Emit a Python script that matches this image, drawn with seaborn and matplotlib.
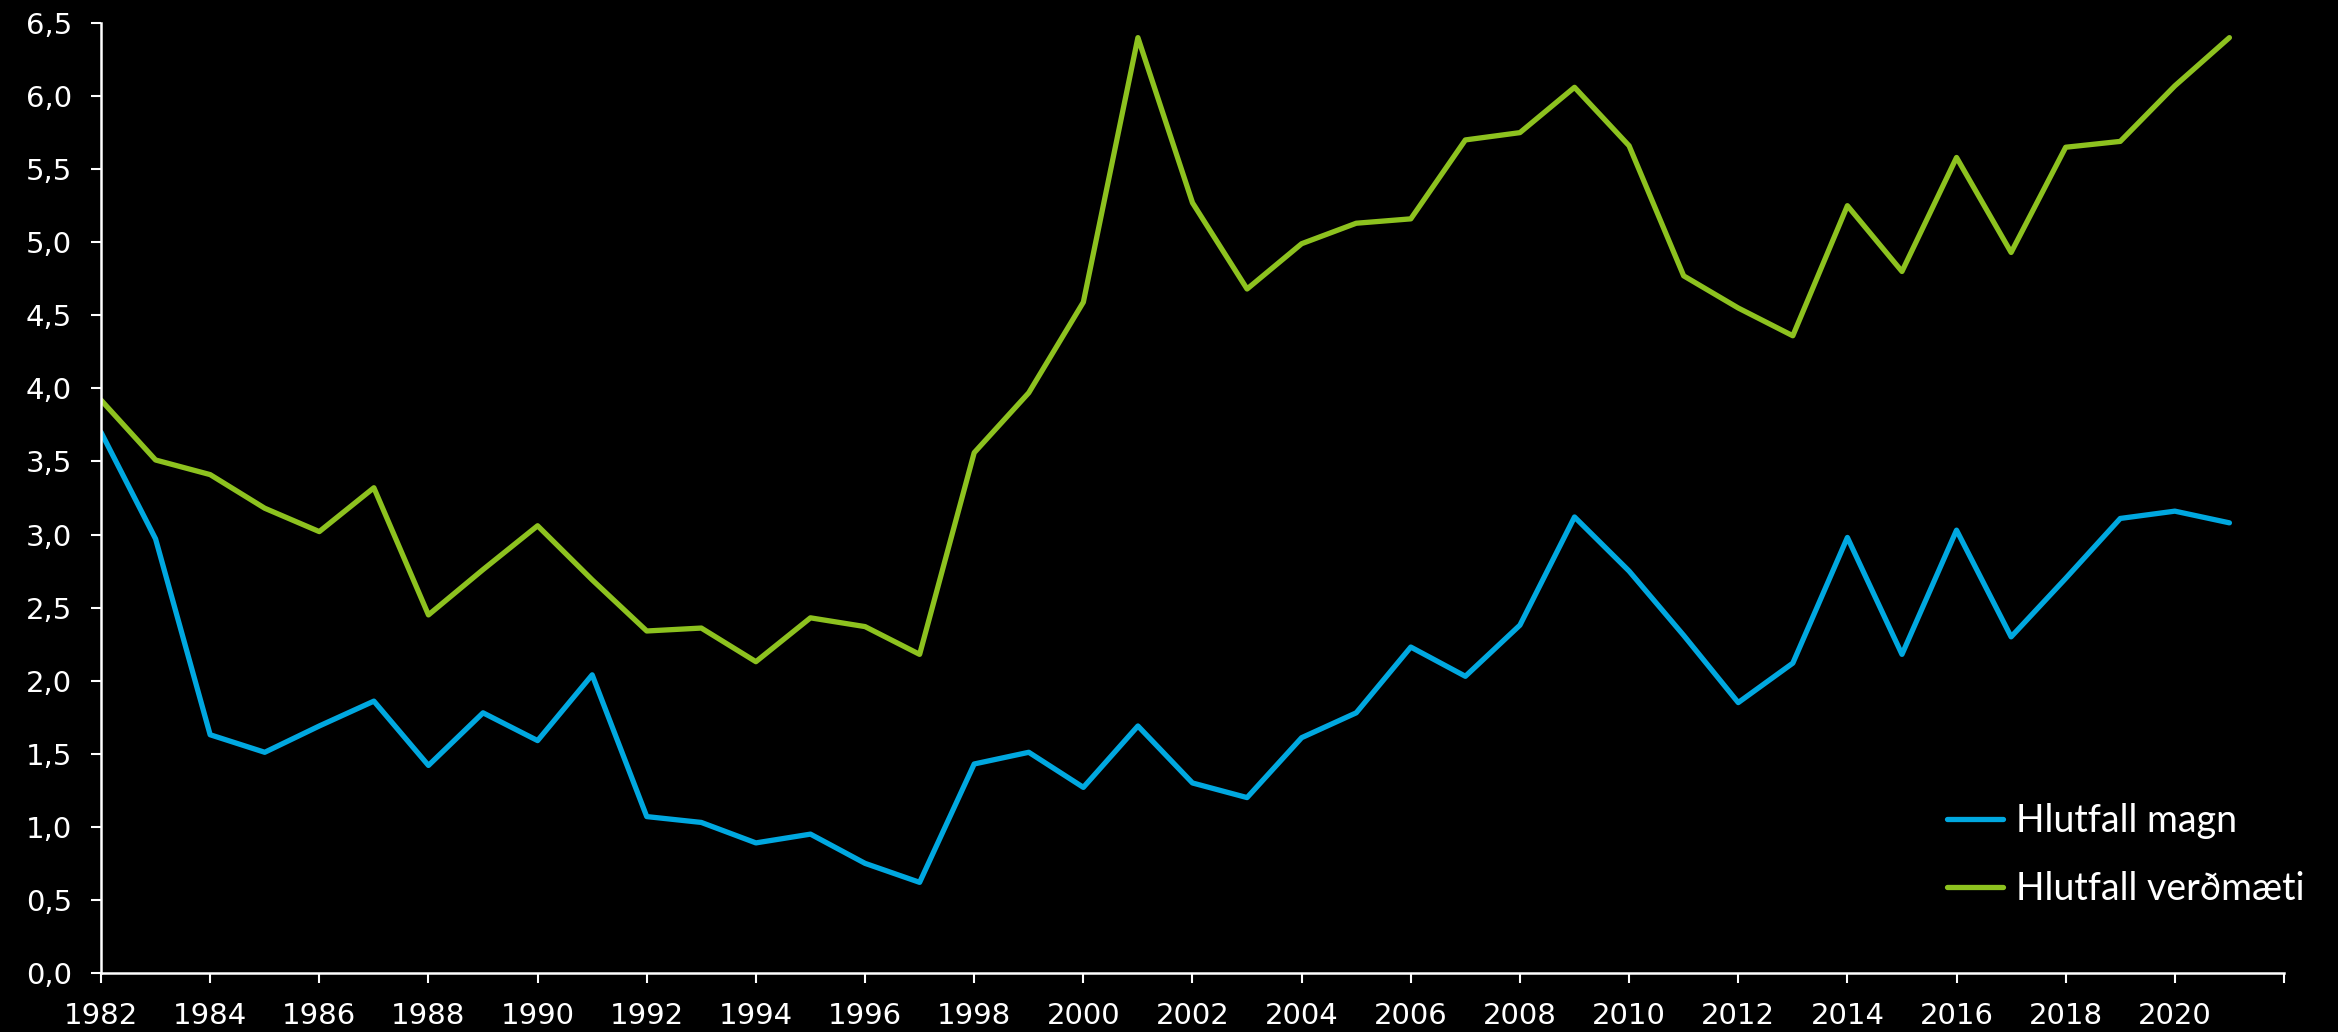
import matplotlib
matplotlib.use("Agg")
import matplotlib.pyplot as plt
import seaborn as sns
import pandas as pd
from matplotlib.ticker import FuncFormatter

years = list(range(1982, 2022))

hlutfall_magn = [3.70, 2.97, 1.63, 1.51, 1.69, 1.86, 1.42, 1.78, 1.59, 2.04,
                 1.07, 1.03, 0.89, 0.95, 0.75, 0.62, 1.43, 1.51, 1.27, 1.69,
                 1.30, 1.20, 1.61, 1.78, 2.23, 2.03, 2.38, 3.12, 2.75, 2.31,
                 1.85, 2.12, 2.98, 2.18, 3.03, 2.30, 2.70, 3.11, 3.16, 3.08]

hlutfall_verdmaeti = [3.92, 3.51, 3.41, 3.18, 3.02, 3.32, 2.45, 2.76, 3.06, 2.69,
                      2.34, 2.36, 2.13, 2.43, 2.37, 2.18, 3.56, 3.97, 4.59, 6.40,
                      5.27, 4.68, 4.99, 5.13, 5.16, 5.70, 5.75, 6.06, 5.66, 4.77,
                      4.55, 4.36, 5.25, 4.80, 5.58, 4.93, 5.65, 5.69, 6.07, 6.40]

series_names = ["Hlutfall magn", "Hlutfall verðmæti"]
colors = ["#00A8E0", "#8DC21F"]

df = pd.DataFrame({"Ár": years, series_names[0]: hlutfall_magn, series_names[1]: hlutfall_verdmaeti})
long_df = df.melt(id_vars="Ár", var_name="Röð", value_name="Hlutfall")

sns.set_style("dark", {"axes.facecolor": "black", "figure.facecolor": "black"})
plt.rcParams["font.family"] = ["DejaVu Sans"]

fig = plt.figure(figsize=(23.38, 10.32), dpi=100, facecolor="black")
ax = fig.add_axes([0.0432, 0.0572, 0.9337, 0.9205])
ax.set_facecolor("black")

sns.lineplot(data=long_df, x="Ár", y="Hlutfall", hue="Röð", palette=colors,
             linewidth=3.8, ax=ax)

ax.set_xlim(1982, 2022)
ax.set_ylim(0, 6.5)
ax.set_xticks(range(1982, 2023, 2))
ax.set_xticklabels([str(y) if y <= 2020 else "" for y in range(1982, 2023, 2)])
ax.set_yticks([i * 0.5 for i in range(14)])
ax.yaxis.set_major_formatter(FuncFormatter(lambda v, p: f"{v:.1f}".replace(".", ",")))

ax.tick_params(axis="both", colors="white", labelcolor="white", labelsize=21,
               direction="out", length=7, width=1.5, pad=14, bottom=True, left=True)
ax.set_xlabel("")
ax.set_ylabel("")
ax.grid(False)
for side in ["top", "right"]:
    ax.spines[side].set_visible(False)
for side in ["left", "bottom"]:
    ax.spines[side].set_visible(True)
    ax.spines[side].set_color("white")
    ax.spines[side].set_linewidth(1.8)

# legend sits inside the plot, lower right
handles, labels = ax.get_legend_handles_labels()
leg = ax.legend(handles, labels, loc="upper left", bbox_to_anchor=(1928 / 2338, 1 - 784 / 1032),
                bbox_transform=fig.transFigure, frameon=False, borderpad=0,
                handlelength=1.5, handletextpad=0.35, labelspacing=0.86,
                prop={"family": "Lato", "size": 27})
for t in leg.get_texts():
    t.set_color("white")

fig.savefig("out.png", dpi=100, facecolor="black")
